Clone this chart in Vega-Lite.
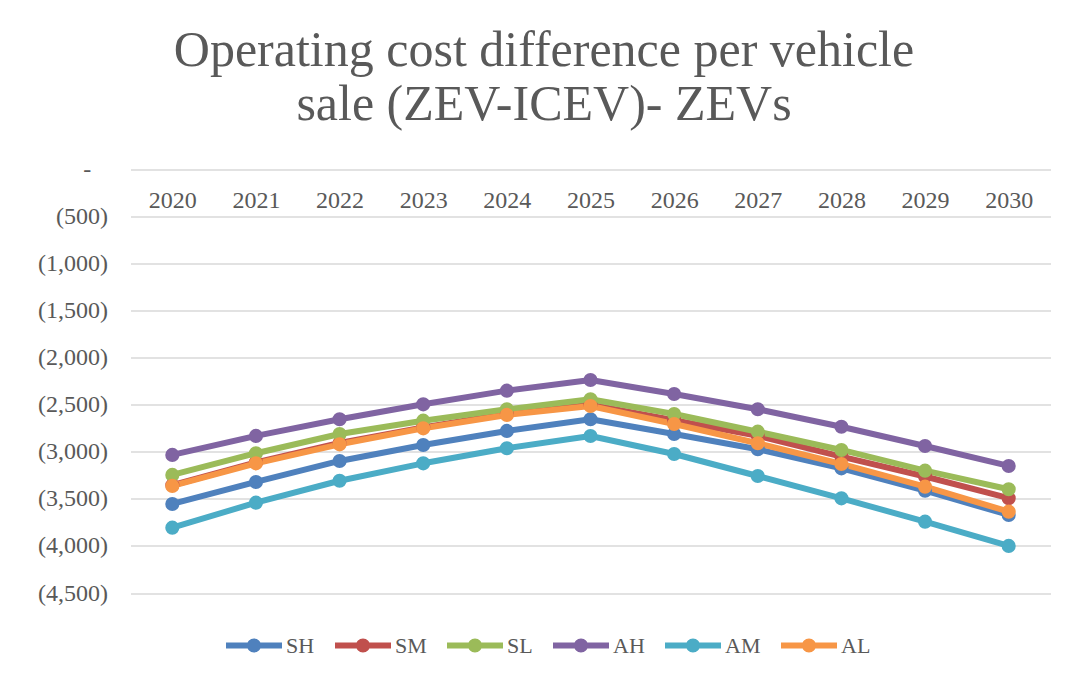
{
  "$schema": "https://vega.github.io/schema/vega-lite/v6.json",
  "width": 920,
  "height": 423.5,
  "autosize": "none",
  "padding": {"left": 130.5, "top": 169.5, "right": 17.5, "bottom": 87},
  "background": "white",
  "title": {
    "text": ["Operating cost difference per vehicle", "sale (ZEV-ICEV)- ZEVs"],
    "font": "Liberation Serif",
    "fontSize": 50,
    "fontWeight": "normal",
    "color": "#595959",
    "lineHeight": 54,
    "anchor": "middle",
    "frame": "bounds",
    "offset": 28
  },
  "data": {
    "values": [
      {"year": "2020", "series": "SH", "value": -3554},
      {"year": "2021", "series": "SH", "value": -3320},
      {"year": "2022", "series": "SH", "value": -3097},
      {"year": "2023", "series": "SH", "value": -2927},
      {"year": "2024", "series": "SH", "value": -2778},
      {"year": "2025", "series": "SH", "value": -2654},
      {"year": "2026", "series": "SH", "value": -2810},
      {"year": "2027", "series": "SH", "value": -2973},
      {"year": "2028", "series": "SH", "value": -3175},
      {"year": "2029", "series": "SH", "value": -3413},
      {"year": "2030", "series": "SH", "value": -3671},
      {"year": "2020", "series": "SM", "value": -3355},
      {"year": "2021", "series": "SM", "value": -3112},
      {"year": "2022", "series": "SM", "value": -2905},
      {"year": "2023", "series": "SM", "value": -2740},
      {"year": "2024", "series": "SM", "value": -2595},
      {"year": "2025", "series": "SM", "value": -2500},
      {"year": "2026", "series": "SM", "value": -2665},
      {"year": "2027", "series": "SM", "value": -2830},
      {"year": "2028", "series": "SM", "value": -3050},
      {"year": "2029", "series": "SM", "value": -3262},
      {"year": "2030", "series": "SM", "value": -3492},
      {"year": "2020", "series": "SL", "value": -3245},
      {"year": "2021", "series": "SL", "value": -3015},
      {"year": "2022", "series": "SL", "value": -2810},
      {"year": "2023", "series": "SL", "value": -2669},
      {"year": "2024", "series": "SL", "value": -2548},
      {"year": "2025", "series": "SL", "value": -2442},
      {"year": "2026", "series": "SL", "value": -2598},
      {"year": "2027", "series": "SL", "value": -2786},
      {"year": "2028", "series": "SL", "value": -2980},
      {"year": "2029", "series": "SL", "value": -3200},
      {"year": "2030", "series": "SL", "value": -3398},
      {"year": "2020", "series": "AH", "value": -3033},
      {"year": "2021", "series": "AH", "value": -2831},
      {"year": "2022", "series": "AH", "value": -2654},
      {"year": "2023", "series": "AH", "value": -2495},
      {"year": "2024", "series": "AH", "value": -2350},
      {"year": "2025", "series": "AH", "value": -2237},
      {"year": "2026", "series": "AH", "value": -2385},
      {"year": "2027", "series": "AH", "value": -2548},
      {"year": "2028", "series": "AH", "value": -2733},
      {"year": "2029", "series": "AH", "value": -2938},
      {"year": "2030", "series": "AH", "value": -3150},
      {"year": "2020", "series": "AM", "value": -3806},
      {"year": "2021", "series": "AM", "value": -3540},
      {"year": "2022", "series": "AM", "value": -3307},
      {"year": "2023", "series": "AM", "value": -3122},
      {"year": "2024", "series": "AM", "value": -2962},
      {"year": "2025", "series": "AM", "value": -2832},
      {"year": "2026", "series": "AM", "value": -3023},
      {"year": "2027", "series": "AM", "value": -3257},
      {"year": "2028", "series": "AM", "value": -3494},
      {"year": "2029", "series": "AM", "value": -3742},
      {"year": "2030", "series": "AM", "value": -4000},
      {"year": "2020", "series": "AL", "value": -3362},
      {"year": "2021", "series": "AL", "value": -3122},
      {"year": "2022", "series": "AL", "value": -2920},
      {"year": "2023", "series": "AL", "value": -2750},
      {"year": "2024", "series": "AL", "value": -2608},
      {"year": "2025", "series": "AL", "value": -2513},
      {"year": "2026", "series": "AL", "value": -2704},
      {"year": "2027", "series": "AL", "value": -2909},
      {"year": "2028", "series": "AL", "value": -3129},
      {"year": "2029", "series": "AL", "value": -3370},
      {"year": "2030", "series": "AL", "value": -3636}
    ]
  },
  "mark": {
    "type": "line",
    "strokeWidth": 6,
    "strokeCap": "round",
    "strokeJoin": "round",
    "point": {"filled": true, "size": 200, "opacity": 1}
  },
  "encoding": {
    "x": {
      "field": "year",
      "type": "ordinal",
      "sort": null,
      "scale": {"type": "point", "padding": 0.5},
      "axis": {
        "orient": "bottom",
        "offset": -423.5,
        "title": null,
        "domain": false,
        "ticks": false,
        "grid": false,
        "labelAngle": 0,
        "labelFont": "Liberation Serif",
        "labelFontSize": 24,
        "labelColor": "#595959",
        "labelPadding": 19,
        "labelBaseline": "top"
      }
    },
    "y": {
      "field": "value",
      "type": "quantitative",
      "scale": {"domain": [-4500, 0], "nice": false, "zero": false},
      "axis": {
        "title": null,
        "values": [0, -500, -1000, -1500, -2000, -2500, -3000, -3500, -4000, -4500],
        "labelExpr": "datum.value == 0 ? '-\u00a0\u00a0\u2009\u200b' : '(' + format(-datum.value, ',') + ')'",
        "domain": false,
        "ticks": false,
        "grid": true,
        "gridColor": "#d9d9d9",
        "gridWidth": 1.5,
        "labelFont": "Liberation Serif",
        "labelFontSize": 24,
        "labelColor": "#595959",
        "labelPadding": 23
      }
    },
    "color": {
      "field": "series",
      "type": "nominal",
      "scale": {
        "domain": ["SH", "SM", "SL", "AH", "AM", "AL"],
        "range": ["#4F81BD", "#C0504D", "#9BBB59", "#8064A2", "#4BACC6", "#F79646"]
      },
      "legend": {
        "title": null,
        "orient": "none",
        "direction": "horizontal",
        "legendX": 95.5,
        "legendY": 448,
        "symbolType": "M-1,-0.107L1,-0.107L1,0.107L-1,0.107Z M-0.25,0A0.25,0.25 0 1,1 0.25,0A0.25,0.25 0 1,1 -0.25,0Z",
        "symbolSize": 3136,
        "symbolStrokeWidth": 0,
        "labelFont": "Liberation Serif",
        "labelFontSize": 22,
        "labelColor": "#595959",
        "labelOffset": 4,
        "columnPadding": 20,
        "encode": {
          "symbols": {
            "update": {
              "fill": {"scale": "color", "field": "value"},
              "stroke": {"value": "transparent"},
              "opacity": {"value": 1}
            }
          }
        }
      }
    }
  },
  "config": {
    "view": {"stroke": null}
  }
}
